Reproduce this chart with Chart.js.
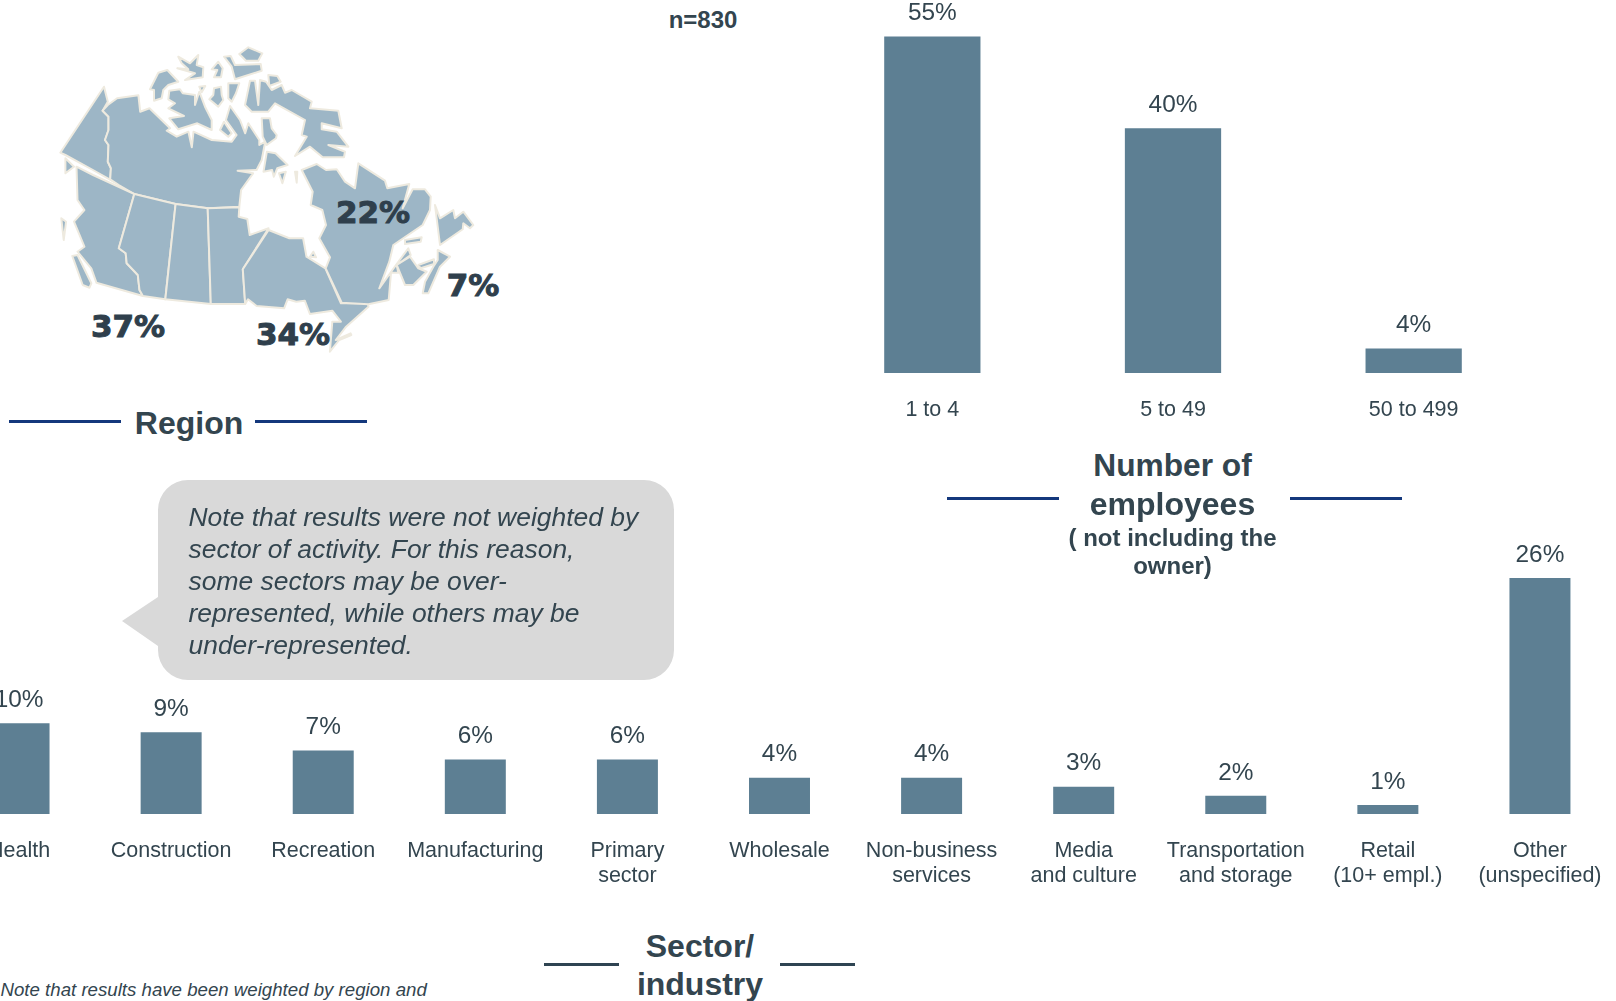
<!DOCTYPE html>
<html><head><meta charset="utf-8">
<script src="https://cdn.jsdelivr.net/npm/chart.js@4"></script>
<style>
html,body{margin:0;padding:0;background:#fff;width:1616px;height:1001px;overflow:hidden;position:relative}
canvas{position:absolute}
.t{position:absolute;font-family:"Liberation Sans",Arial,sans-serif;color:#33454f;white-space:nowrap;line-height:1;transform:translate(-50%,-50%)}
.b{font-weight:bold}
.rule{position:absolute;height:3px}
#bubbleText{position:absolute;left:188.5px;top:501px;font:italic 26.45px/32px "Liberation Sans",Arial,sans-serif;color:#33454f;white-space:nowrap}
#foot{position:absolute;left:0.5px;top:979px;font:italic 18.67px/22px "Liberation Sans",Arial,sans-serif;color:#33454f;white-space:nowrap}
svg{position:absolute}
</style></head><body>
<svg id="bubble" style="left:0;top:0" width="1616" height="1001"><path fill="#d9d9d9" d="M188 480H644A30 30 0 0 1 674 510V650A30 30 0 0 1 644 680H188A30 30 0 0 1 158 650V646L122 621L158 597V510A30 30 0 0 1 188 480Z"/></svg>
<svg id="map" style="left:0;top:0" width="1616" height="400"></svg>
<canvas id="top"></canvas>
<canvas id="bottom"></canvas>
<div id="bubbleText">Note that results were not weighted by<br>sector of activity. For this reason,<br>some sectors may be over-<br>represented, while others may be<br>under-represented.</div>
<div id="foot">Note that results have been weighted by region and</div>
<script>
const employeeCategories = ['1 to 4', '5 to 49', '50 to 499'];
const employeeValues = [55, 40, 4];
const sectorCategories = [['Health'], ['Construction'], ['Recreation'], ['Manufacturing'], ['Primary', 'sector'], ['Wholesale'], ['Non-business', 'services'], ['Media', 'and culture'], ['Transportation', 'and storage'], ['Retail', '(10+ empl.)'], ['Other', '(unspecified)']];
const sectorValues = [10, 9, 7, 6, 6, 4, 4, 3, 2, 1, 26];
const regionNames = ['West', 'Ontario', 'Quebec', 'Atlantic'];
const regionValues = [37, 34, 22, 7];

const BAR = '#5d7f93', INK = '#33454f', FONT = '"Liberation Sans", Arial, sans-serif';

const valueLabels = {
  id: 'valueLabels',
  afterDatasetsDraw(chart) {
    const c = chart.ctx, meta = chart.getDatasetMeta(0), data = chart.data.datasets[0].data;
    c.save();
    c.font = '24.4px ' + FONT; c.fillStyle = INK; c.textAlign = 'center'; c.textBaseline = 'middle';
    meta.data.forEach((bar, i) => c.fillText(data[i] + '%', bar.x, bar.y - 23));
    c.restore();
  }
};

function makeChart(id, left, top, width, height, labels, values, yMax, padTop, axisH, tickPad, barPct) {
  const el = document.getElementById(id);
  el.style.left = left + 'px'; el.style.top = top + 'px';
  el.width = width; el.height = height;
  el.style.width = width + 'px'; el.style.height = height + 'px';
  return new Chart(el, {
    type: 'bar',
    data: { labels, datasets: [{ data: values, backgroundColor: BAR, borderWidth: 0, barPercentage: barPct, categoryPercentage: 1 }] },
    options: {
      responsive: false, animation: false,
      layout: { padding: { top: padTop, left: 0, right: 0, bottom: 0 } },
      plugins: { legend: { display: false }, tooltip: { enabled: false }, title: { display: false } },
      scales: {
        x: {
          grid: { display: false, drawTicks: false }, border: { display: false },
          afterFit(s) { s.height = axisH; s.paddingLeft = 0; s.paddingRight = 0; },
          ticks: { color: INK, padding: tickPad, maxRotation: 0, minRotation: 0, autoSkip: false, font: { family: FONT, size: 21.5, lineHeight: '25px' } }
        },
        y: { display: false, min: 0, max: yMax }
      }
    },
    plugins: [valueLabels]
  });
}
makeChart('top', 812, 0, 722, 433, employeeCategories, employeeValues, 60, 6, 60, 25, 0.4);
makeChart('bottom', -57, 520, 1673, 380, sectorCategories, sectorValues, 28.3, 37, 86, 25, 0.401);

function text(str, x, y, size, bold, extra) {
  const d = document.createElement('div');
  d.className = 't' + (bold ? ' b' : '');
  d.textContent = str;
  d.style.left = x + 'px'; d.style.top = y + 'px'; d.style.fontSize = size + 'px';
  if (extra) Object.assign(d.style, extra);
  document.body.appendChild(d);
}
function rule(x1, x2, y, color) {
  const d = document.createElement('div');
  d.className = 'rule';
  d.style.left = x1 + 'px'; d.style.width = (x2 - x1) + 'px'; d.style.top = (y - 1.5) + 'px'; d.style.background = color;
  document.body.appendChild(d);
}
text('n=830', 703, 20, 24, true);
text('Region', 189, 423, 32, true);
text('Number of', 1172.5, 466, 31.7, true);
text('employees', 1172.5, 504, 32, true);
text('( not including the', 1172.5, 537.5, 24, true);
text('owner)', 1172.5, 566, 24, true);
text('Sector/', 700, 945.5, 32, true);
text('industry', 700, 983.5, 32, true);
const NAVY = '#14387c', SLATE = '#2f4452';
rule(9, 121, 421.5, NAVY); rule(255, 367, 421.5, NAVY);
rule(947, 1059, 498.5, NAVY); rule(1290, 1402, 498.5, NAVY);
rule(544, 619, 964, SLATE); rule(780, 855, 964, SLATE);
const regionPos = [[128, 325.5], [293, 333.5], [373, 211.5], [473, 284.5]];
regionValues.forEach((v, i) => text(v + '%', regionPos[i][0], regionPos[i][1], 31, true, { fontFamily: '"DejaVu Sans",sans-serif', color: '#2f3f4c', webkitTextStroke: '1px #2f3f4c' }));

// Decorative base map outline (not data). Each group is traced in its own local grid.
const mapMain = { ox: 0, oy: 20, sx: 540 / 1568, sy: 1 / 3, shapes: [
 "302,200 313,245 298,272 315,290 315,330 305,360 315,375 313,425 322,445 320,478 345,490 330,485 270,450 190,405 175,398",
 "313,255 340,235 402,226 407,275 434,265 494,325 484,332 513,350 547,335 557,382 562,335 615,360 673,365 687,345 656,300 668,258 697,300 712,340 721,310 753,360 753,375 770,365 760,420 745,450 690,452 735,460 700,510 695,560 605,565 510,552 390,522 345,495 320,478 322,445 313,425 315,375 305,360 315,330 315,290 298,272",
 "190,415 215,440 190,460",
 "222,440 270,465 390,522 345,685 365,700 368,730 400,765 405,810 415,828 280,788 265,745 225,695 245,680 215,605 245,570 225,540",
 "390,522 510,552 480,838 415,828 405,810 400,765 368,730 365,700 345,685",
 "510,552 603,565 612,852 480,838",
 "603,565 695,562 693,590 718,597 725,645 780,625 705,748 712,852 612,852",
 "780,630 840,655 880,655 890,710 945,745 990,850 1068,850 1070,860 1005,920 975,960 1018,940 1020,945 985,960 958,995 965,905 990,905 965,872 900,882 885,842 860,845 835,838 825,865 745,858 720,838 712,852 705,748",
 "210,708 225,705 265,790 260,803 240,795",
 "178,595 192,605 185,660",
 "775,395 800,400 835,435 805,445 795,470 790,450 765,455",
 "810,460 830,455 820,490"
]};
const mapArctic = { ox: 140, oy: 40, sx: 1 / 3, sy: 1 / 3, shapes: [
 "30,148 55,98 82,90 115,125 85,135 70,150 65,175 42,182 42,150",
 "88,152 120,148 128,160 165,165 165,195 178,155 195,200 215,240 215,270 172,250 115,268 88,235 132,228 85,205 105,190 85,178",
 "115,50 150,70 175,45 170,75 190,82 188,112 135,120 165,100 112,85 145,88 125,70",
 "215,88 235,65 248,85 243,112 222,112 232,90",
 "252,50 272,48 285,75 362,72 365,92 285,118 275,80",
 "298,42 325,22 367,40 355,62 318,62",
 "178,140 196,138 185,157",
 "222,145 243,140 245,165 250,180 235,200 208,178 220,165",
 "265,130 298,130 288,160 275,185 265,175",
 "385,105 412,108 422,125 388,138",
 "330,122 345,122 355,195 360,120 378,125 395,150 425,135 435,158 455,150 515,185 510,205 595,212 605,265 545,250 545,268 590,275 625,320 565,315 615,335 612,352 548,352 510,320 465,348 500,290 485,285 495,240 405,190 385,215 335,215 315,195",
 "365,235 390,235 395,265 410,285 408,295 380,315 368,290",
 "240,270 252,245 275,280 265,290"
]};
const mapEast = { ox: 290, oy: 150, sx: 1 / 3, sy: 1 / 3, shapes: [
 "35,60 80,42 108,60 140,58 165,95 195,115 205,40 285,92 292,115 358,102 338,175 368,118 405,118 422,140 420,180 398,225 310,285 298,335 268,415 318,345 355,295 362,315 320,345 325,368 303,368 296,450 235,463 155,458 107,355 120,322 88,265 108,225 97,180 62,165 68,125",
 "435,165 450,205 490,180 495,205 520,185 550,225 540,235 520,220 518,238 450,285",
 "345,270 395,262 392,275 345,282",
 "360,320 320,345 345,405 370,405 410,365 385,355",
 "443,300 480,320 450,350 415,430 398,430 405,395 430,350 443,330",
 "385,345 432,328 432,342 392,355",
 "60,320 70,305 78,322",
 "15,65 22,65 20,98"
]};
document.getElementById('map').innerHTML = [mapMain, mapArctic, mapEast].map(g => g.shapes.map(p => {
  const pts = p.split(' ').map(q => { const [a, b] = q.split(','); return (g.ox + a * g.sx).toFixed(1) + ',' + (g.oy + b * g.sy).toFixed(1); }).join(' ');
  return `<polygon points="${pts}" fill="#9db6c6" stroke="#eeeadf" stroke-width="2" stroke-linejoin="round"/>`;
}).join('')).join('');
</script>
</body></html>
